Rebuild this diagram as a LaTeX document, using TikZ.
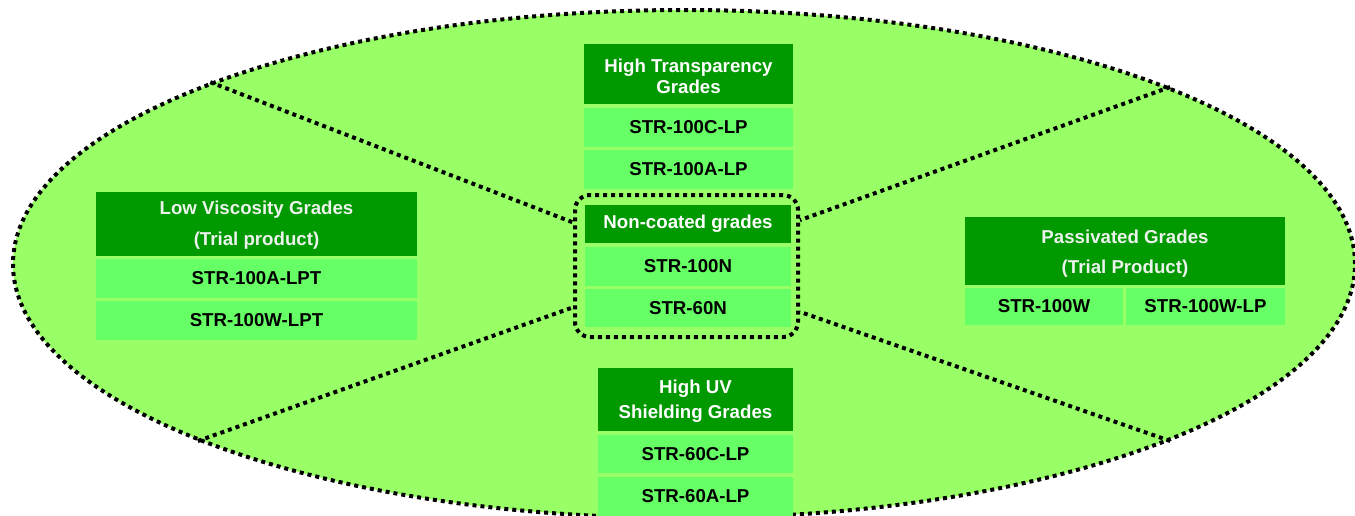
\documentclass[tikz,border=0pt]{standalone}
\usepackage{fontspec}
\setmainfont{Liberation Sans}
\usetikzlibrary{shapes.geometric}
\definecolor{ovalgreen}{RGB}{153,255,102}
\definecolor{hdrgreen}{RGB}{0,153,0}
\definecolor{rowgreen}{RGB}{102,255,102}
\definecolor{softwhite}{RGB}{236,242,236}
\tikzset{
  dotline/.style={draw=black, line width=4pt, dash pattern=on 4pt off 4pt},
  hdr/.style={fill=hdrgreen, text=white, inner sep=0pt, align=center,
    font=\bfseries\fontsize{18.67}{22}\selectfont},
  row/.style={fill=rowgreen, text=black, inner sep=0pt,
    font=\bfseries\fontsize{18.67}{22}\selectfont},
}
\begin{document}
\begin{tikzpicture}[x=1pt,y=-1pt]
\useasboundingbox (0,0) rectangle (1355,515);
\clip (0,0) rectangle (1355,515);
% oval
\node[ellipse, fill=ovalgreen, dotline, minimum width=1342pt, minimum height=508pt, inner sep=0pt] (oval) at (684,264) {};
% core rounded box
\node[dotline, rounded corners=15pt, minimum width=223pt, minimum height=142pt, inner sep=0pt] (core) at (686.5,266) {};
% radial dotted lines
\draw[dotline] (oval.159.3) -- (core.159);
\draw[dotline] (oval.20.7) -- (core.22);
\draw[dotline] (oval.200.7) -- (core.200);
\draw[dotline] (oval.-20.7) -- (core.-22);
% top group
\node[hdr, font=\bfseries\fontsize{18.67}{21.3}\selectfont, minimum width=209pt, minimum height=60pt] (tH) at (688.5,74) {\rule{0pt}{18.2pt}High Transparency\\Grades};
\node[row, minimum width=209pt, minimum height=39pt] (t1) at (688.5,127.5) {STR-100C-LP};
\node[row, minimum width=209pt, minimum height=39pt] (t2) at (688.5,169.5) {STR-100A-LP};
% center group
\node[hdr, minimum width=206pt, minimum height=38pt] (cH) at (688,224) {Non-coated grades};
\node[row, minimum width=206pt, minimum height=39pt] (c1) at (688,266.5) {STR-100N};
\node[row, minimum width=206pt, minimum height=38pt] (c2) at (688,308) {STR-60N};
% bottom group
\node[hdr, minimum width=195pt, minimum height=63pt, font=\bfseries\fontsize{18.67}{24.4}\selectfont] (bH) at (695.5,399.5) {\rule{0pt}{17.3pt}High UV\\Shielding Grades};
\node[row, minimum width=195pt, minimum height=38pt] (b1) at (695.5,454) {STR-60C-LP};
\node[row, minimum width=195pt, minimum height=39pt] (b2) at (695.5,496.5) {STR-60A-LP};
% left group
\node[hdr, text=softwhite, font=\bfseries\fontsize{18.67}{30.3}\selectfont, minimum width=321pt, minimum height=64pt] (lH) at (256.5,224) {\rule{0pt}{15.6pt}Low Viscosity Grades\\(Trial product)};
\node[row, minimum width=321pt, minimum height=39pt] (l1) at (256.5,278.5) {STR-100A-LPT};
\node[row, minimum width=321pt, minimum height=39pt] (l2) at (256.5,320.5) {STR-100W-LPT};
% right group
\node[hdr, text=softwhite, font=\bfseries\fontsize{18.67}{29.6}\selectfont, minimum width=320pt, minimum height=68pt] (rH) at (1125,251) {\rule{0pt}{18.3pt}Passivated Grades\\(Trial Product)};
\node[row, minimum width=158pt, minimum height=37pt] (r1) at (1044,306.5) {STR-100W};
\node[row, minimum width=159pt, minimum height=37pt] (r2) at (1205.5,306.5) {STR-100W-LP};
\end{tikzpicture}
\end{document}
